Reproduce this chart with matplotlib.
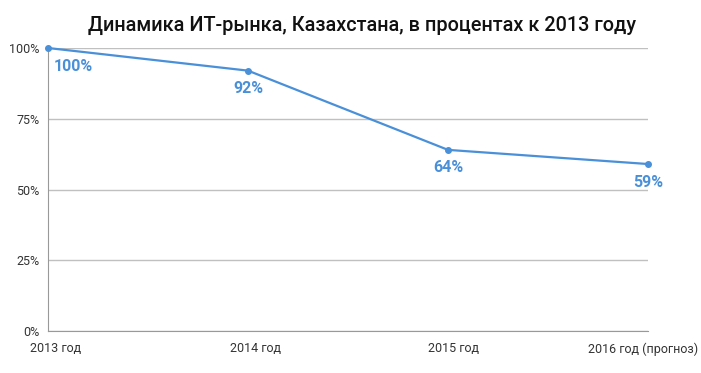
import matplotlib
matplotlib.use("Agg")
import matplotlib.pyplot as plt
import matplotlib.transforms as mtransforms
from matplotlib.ticker import FuncFormatter

categories = ["2013 год", "2014 год", "2015 год", "2016 год (прогноз)"]
values = [100, 92, 64, 59]
yticks = [0, 25, 50, 75, 100]

plt.rcParams['font.family'] = ['Roboto', 'DejaVu Sans']

fig = plt.figure(figsize=(7.01, 3.73), dpi=100)
ax = fig.add_axes([48/701, 1-331/373, 600/701, 283/373])

color = '#4a90d9'
x = list(range(len(categories)))
ax.plot(x, values, color=color, lw=1.6, marker='o', ms=4, clip_on=False, zorder=3)

for i, v in enumerate(values):
    if i == 0:
        ax.annotate(f"{v}%", (i, v), xytext=(4, -13), textcoords='offset points',
                    ha='left', va='center', color=color, fontsize=11.5, fontweight='bold')
    else:
        ax.annotate(f"{v}%", (i, v), xytext=(0, -13), textcoords='offset points',
                    ha='center', va='center', color=color, fontsize=11.5, fontweight='bold')

ax.set_xlim(0, 3)
ax.set_ylim(0, 100)
ax.set_yticks(yticks)
ax.yaxis.set_major_formatter(FuncFormatter(lambda v, p: f"{int(v)}%"))
ax.set_xticks(x)
ax.set_xticklabels(categories)
ax.tick_params(axis='both', length=0, labelsize=9, colors='#333333', pad=6)
ax.tick_params(axis='x', pad=8)
shifts = [8, 7, 5, -5]
for lbl, dx in zip(ax.get_xticklabels(), shifts):
    lbl.set_transform(lbl.get_transform() + mtransforms.ScaledTranslation(dx/100, 0, fig.dpi_scale_trans))
ax.grid(axis='y', color='#c0c0c0', lw=1)
ax.set_axisbelow(True)
for s in ['top', 'right']:
    ax.spines[s].set_visible(False)
ax.spines['left'].set_color('#999999')
ax.spines['bottom'].set_color('#999999')

fig.suptitle("Динамика ИТ-рынка, Казахстана, в процентах к 2013 году",
             x=362/701, y=1-25/373, va='center', fontsize=14.3, fontweight='medium', color='#111111')

fig.savefig("out.png", dpi=100)
